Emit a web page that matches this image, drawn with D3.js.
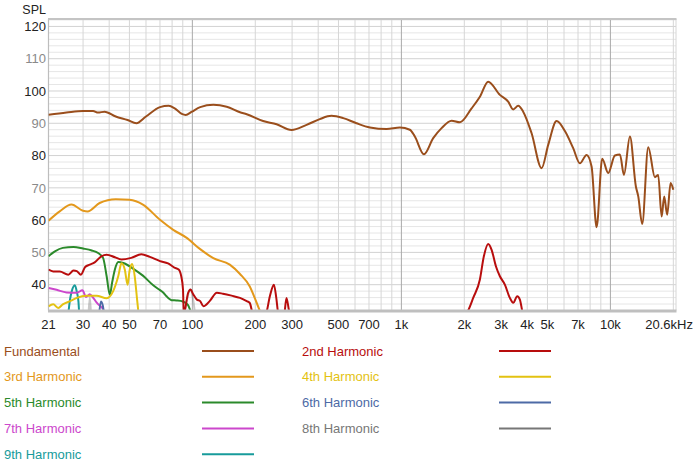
<!DOCTYPE html>
<html>
<head>
<meta charset="utf-8">
<script src="https://cdn.jsdelivr.net/npm/d3@7"></script>
<style>
  body { margin: 0; background: #fff; }
  svg { font-family: "Liberation Sans", Arial, Helvetica, sans-serif; }
</style>
</head>
<body>
<svg id="chart" width="700" height="473"></svg>
<script>
// frequency (Hz), SPL (dB)
const fundamental = [[20.5,92.6],[25,93.3],[30,93.8],[33.5,93.8],[35.4,93.3],[38,93.6],[43,92.1],[49,91.0],[54,90.0],
  [60,92.1],[70,95.0],[77,95.4],[82,94.7],[89,92.9],[93,92.6],[99,93.5],[109,95.0],[126,95.7],[146,95.1],[169,93.4],
  [182,92.8],[218,90.7],[253,89.7],[298,87.9],[352,89.5],[407,91.3],[463,92.3],[527,91.6],[610,90.0],[707,88.7],
  [850,88.2],[984,88.7],[1098,88.0],[1160,85.9],[1282,80.4],[1420,85.4],[1557,88.5],[1739,90.8],[1905,90.3],
  [2167,94.6],[2375,98.2],[2602,102.9],[2960,98.8],[3243,96.7],[3427,94.3],[3622,95.4],[3826,93.6],[4198,86.9],
  [4686,76.1],[5041,83.3],[5529,90.7],[6058,87.6],[6637,82.3],[7147,77.6],[7692,80.2],[8128,76.6],[8590,57.8],
  [9138,79.0],[9761,74.6],[10510,80.0],[11110,80.3],[11610,74.0],[12400,85.9],[13240,70.4],[13580,67.5],[14200,58.8],
  [15170,82.6],[16330,73.3],[16930,74.0],[17580,61.1],[18090,67.3],[18690,61.7],[19410,71.5],[20000,69.4]];

const harmonic2 = [[20.5,44.7],[21.6,44.1],[23.2,44.1],[25.5,43.1],[27,44.4],[28,44.2],[29.3,43.1],[30.7,45.5],
  [32.3,46.2],[34.1,46.9],[36.7,48.8],[38.9,49.3],[42.6,48.5],[45.8,47.8],[51,48.3],[57,49.4],[62.6,48.6],[70,47.3],
  [76.5,46.6],[82,45.3],[86,44.7],[88.5,42.6],[90.2,38.5],[91,31],[95.5,37.5],[98,38.5],[101,37.0],[105,35.4],
  [109,34.9],[113,33.3],[121,34.9],[131,37.5],[140,37.2],[154,36.6],[169,35.9],[182,34.9],[188,34.4],[195,31],
  [215,30],[225,31],[235,36.5],[245.5,40.0],[252,36],[258,31],[274,30],[282,35.9],[290,32],[296,30],
  [1000,30],[2000,30],[2087,32],[2206,35.9],[2375,41.6],[2481,48.8],[2602,52.6],[2702,50.8],[2833,45.7],
  [2960,42.6],[3127,40.0],[3304,35.9],[3427,34.4],[3583,36.4],[3690,35.4],[3826,31],[4200,30]];

const harmonic3 = [[20.5,59.8],[23.2,62.7],[26.4,64.8],[30,62.9],[31.5,62.7],[36,65.3],[43,66.5],[50,66.3],
  [58,64.8],[70,60.1],[81,57.0],[94,54.5],[109,51.0],[126,48.2],[151,46.2],[169,43.3],[188,39.5],[203,34.4],[213,31]];

const harmonic4 = [[20.5,33.3],[21.6,33.9],[22.8,32.8],[24,33.9],[26,34.9],[28,35.9],[31,36.6],[34.8,36.6],
  [38.9,35.8],[41.8,38.0],[44.2,42.6],[45.8,46.6],[47.5,44.7],[49,40.0],[50,44.1],[51.5,46.4],[53,42.6],
  [54.4,35.4],[55.5,30]];

const harmonic5 = [[20.5,48.8],[22,50.3],[24,51.4],[27,51.7],[30,51.2],[33,50.6],[35.4,49.8],[37.4,48.3],
  [38.9,42.6],[40.3,36.9],[41.3,40.6],[42.6,44.7],[44.2,47.0],[46.7,46.7],[52,45.0],[58,42.8],[65,39.8],
  [70,38.3],[72.5,37.6],[75,36.5],[79.5,35.2],[84,35.1],[90,34.8],[95,33.8],[99,31]];

const harmonic6 = [[35.7,30],[36.5,34.8],[37.3,33.5],[37.9,30]];

const harmonic7 = [[20.5,39.0],[22.4,38.4],[25,37.6],[28,37.5],[29.8,38.3],[31,36.2],[32.3,37.0],[33.5,36.0],
  [34.8,34.5],[36,33.5],[37.4,32.5],[38,30]];

const harmonic8 = [[31.8,30],[32.3,36],[32.9,30],[89,30],[90,30],[94,35],[97.8,38.5],[100.5,36],[103.4,30]];

const harmonic9 = [[25.4,30],[26,35.5],[26.5,38.0],[27.4,39.8],[28,37.8],[28.5,34.9],[28.8,30]];

const seriesNames = ["Fundamental","2nd Harmonic","3rd Harmonic","4th Harmonic","5th Harmonic",
  "6th Harmonic","7th Harmonic","8th Harmonic","9th Harmonic"];
const seriesColors = ["#9a4e1c","#b80d0d","#e3981c","#e3c212","#2b8a2b","#4d6aa6","#cc47cc","#777777","#179b9b"];
const seriesData = [fundamental,harmonic2,harmonic3,harmonic4,harmonic5,harmonic6,harmonic7,harmonic8,harmonic9];

const xTickValues = [20.5,30,40,50,70,100,200,300,500,700,1000,2000,3000,4000,5000,7000,10000,20600];
const xTickLabels = ["21","30","40","50","70","100","200","300","500","700","1k","2k","3k","4k","5k","7k","10k","20.6kHz"];
const yTickValues = [120,110,100,90,80,70,60,50,40];

const svg = d3.select("#chart");
const x = d3.scaleLog().domain([20.5, 20600]).range([48.5, 676]);
const y = d3.scaleLinear().domain([32, 122.3]).range([310.5, 19]);

// grid
var vGrid = [];
[10,100,1000,10000].forEach(function(dec){
  for (var k = 1; k < 10; k++) { var f = dec*k; if (f > 20.5 && f < 20600) vGrid.push(f); }
});
svg.append("g").selectAll("line.h")
  .data(d3.range(34, 123, 2))
  .enter().append("line")
    .attr("x1", 48.5).attr("x2", 676)
    .attr("y1", d => y(d)).attr("y2", d => y(d))
    .attr("stroke", d => d % 10 === 0 ? "#d2d2d2" : "#e6e6e6")
    .attr("stroke-width", 1);
svg.append("g").selectAll("line.v")
  .data(vGrid)
  .enter().append("line")
    .attr("x1", d => x(d)).attr("x2", d => x(d))
    .attr("y1", 19).attr("y2", 310.5)
    .attr("stroke", d => [100,1000,10000].indexOf(d) >= 0 ? "#a9a9a9" : "#d6d6d6")
    .attr("stroke-width", 1);

// frame
svg.append("line").attr("x1", 48.5).attr("x2", 48.5).attr("y1", 19).attr("y2", 310.5)
  .attr("stroke", "#bdbdbd").attr("stroke-width", 1.2);
svg.append("line").attr("x1", 676).attr("x2", 676).attr("y1", 19).attr("y2", 310.5)
  .attr("stroke", "#d6d6d6").attr("stroke-width", 1);
svg.append("line").attr("x1", 48).attr("x2", 676.5).attr("y1", 19).attr("y2", 19)
  .attr("stroke", "#c4c4c4").attr("stroke-width", 2);

// curves
svg.append("clipPath").attr("id", "plotclip")
  .append("rect").attr("x", 48.5).attr("y", 19).attr("width", 627.5).attr("height", 291.5);

const line = d3.line()
  .x(d => x(d[0]))
  .y(d => y(d[1]))
  .curve(d3.curveMonotoneX);

const plot = svg.append("g").attr("clip-path", "url(#plotclip)");
d3.range(seriesData.length - 1, -1, -1).forEach(function(i){
  plot.append("path")
    .attr("d", line(seriesData[i]))
    .attr("fill", "none")
    .attr("stroke", seriesColors[i])
    .attr("stroke-opacity", i === 7 ? 0.4 : 1)
    .attr("stroke-width", 2)
    .attr("stroke-linejoin", "round");
});

// bottom axis
svg.append("line").attr("x1", 48).attr("x2", 676.5).attr("y1", 311).attr("y2", 311)
  .attr("stroke", "#bfbfbf").attr("stroke-width", 3);

svg.append("g").selectAll("text")
  .data(xTickValues)
  .enter().append("text")
    .attr("x", (d, i) => i === xTickValues.length - 1 ? 693 : x(d))
    .attr("y", 328.5)
    .attr("text-anchor", (d, i) => i === xTickValues.length - 1 ? "end" : "middle")
    .attr("font-size", "13px")
    .attr("fill", "#222")
    .text((d, i) => xTickLabels[i]);

svg.append("g").selectAll("text")
  .data(yTickValues)
  .enter().append("text")
    .attr("x", 46)
    .attr("y", d => y(d))
    .attr("dy", "0.36em")
    .attr("text-anchor", "end")
    .attr("font-size", "13px")
    .attr("fill", d => d % 20 === 0 ? "#222" : "#8a8a8a")
    .text(d => d);

svg.append("text").attr("x", 46).attr("y", 14).attr("text-anchor", "end")
  .attr("font-size", "12.5px").attr("fill", "#222").text("SPL");

// legend
const legend = svg.append("g");
seriesNames.forEach(function(name, i){
  var col = i % 2, row = Math.floor(i / 2);
  var ly = 351 + row * 25.8;
  var tx = col === 0 ? 4 : 302;
  var lx = col === 0 ? 202 : 499;
  legend.append("text")
    .attr("x", tx).attr("y", ly).attr("dy", "0.36em")
    .attr("font-size", "13px")
    .attr("fill", seriesColors[i])
    .text(name);
  legend.append("line")
    .attr("x1", lx).attr("x2", lx + 52)
    .attr("y1", ly).attr("y2", ly)
    .attr("stroke", seriesColors[i])
    .attr("stroke-width", 2);
});
</script>
</body>
</html>
